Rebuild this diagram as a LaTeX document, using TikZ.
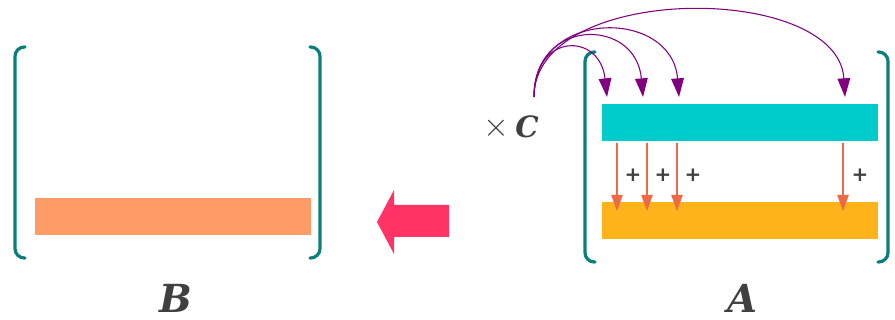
\documentclass[tikz,border=0pt]{standalone}
\usepackage{fontspec}
\newfontfamily\lblfont{DejaVu Serif}
\newfontfamily\plusfont{DejaVu Sans}
\usetikzlibrary{arrows.meta}
\definecolor{teal}{HTML}{0A7F7A}
\definecolor{cyanbar}{HTML}{00CCCC}
\definecolor{yellowbar}{HTML}{FFB31A}
\definecolor{salmonbar}{HTML}{FF9B66}
\definecolor{pinkarrow}{HTML}{FF3366}
\definecolor{purp}{HTML}{800080}
\definecolor{orangearr}{HTML}{EE6A45}
\definecolor{txt}{HTML}{404040}
\tikzset{
  bracket/.style={draw=teal, line width=2.4pt, rounded corners=7pt, line cap=round},
  bar/.style={draw=none, minimum height=27.75pt, inner sep=0pt, outer sep=0pt},
  purparc/.style={draw=purp, line width=0.8pt, -{Triangle[length=14pt,width=9.5pt]}},
  addarr/.style={draw=orangearr, line width=1pt, -{Triangle[length=12pt,width=8.5pt]}},
  plus/.style={text=txt, font=\plusfont\bfseries\fontsize{15}{15}\selectfont, inner sep=0pt},
  matlabel/.style={text=txt, font=\lblfont\bfseries\itshape\fontsize{29}{29}\selectfont, inner sep=0pt}
}
\begin{document}
\begin{tikzpicture}[x=0.75pt,y=-0.75pt]
\useasboundingbox (0,0) rectangle (895,320);
% left matrix B
\draw[bracket] (25,47) -- (15,47) -- (15,258) -- (25,258);
\draw[bracket] (310,47) -- (320,47) -- (320,258) -- (310,258);
\node[bar, fill=salmonbar, minimum width=207pt, anchor=north west] (brow) at (35,198) {};
\node[matlabel] (B) at (176,298) {B};
% big arrow
\path[fill=pinkarrow] (377,222) -- (394,190) -- (394,205) -- (449,205) -- (449,237) -- (394,237) -- (394,254) -- cycle;
\node[inner sep=0pt] (bigarrow) at (413,222) {};
% right matrix A
\draw[bracket] (595,52) -- (585,52) -- (585,262) -- (595,262);
\draw[bracket] (878,52) -- (888,52) -- (888,262) -- (878,262);
\node[bar, fill=cyanbar, minimum width=207pt, anchor=north west] (rowC) at (602,104) {};
\node[bar, fill=yellowbar, minimum width=207pt, anchor=north west] (rowY) at (602,202) {};
\node[matlabel] (A) at (742,298) {A};
% x C
\node[text=txt, inner sep=0pt] (times) at (496,128) {\fontsize{24}{24}\selectfont$\times$};
\node[text=txt, font=\lblfont\bfseries\itshape\fontsize{22}{22}\selectfont, inner sep=0pt] (C) at (527,127) {C};
\coordinate (cs) at (534,97);
\coordinate (t1) at (607,97);
\coordinate (t2) at (643,97);
\coordinate (t3) at (679,97);
\coordinate (t4) at (845,97);
\draw[purparc] (cs) .. controls (534,32) and (600,32) .. (t1);
\draw[purparc] (cs) .. controls (534,17) and (636,17) .. (t2);
\draw[purparc] (cs) .. controls (534,8) and (672,8) .. (t3);
\draw[purparc] (cs) .. controls (534,-18) and (838,-18) .. (t4);
% additions
\foreach \i/\x in {1/617,2/647,3/677,4/843}{
  \coordinate (s\i) at (\x,143);
  \coordinate (e\i) at (\x,211);
  \draw[addarr] (s\i) -- (e\i);
}
\foreach \i/\x in {1/633,2/663,3/693,4/860}{
  \node[plus] (p\i) at (\x,175) {+};
}
\end{tikzpicture}
\end{document}
